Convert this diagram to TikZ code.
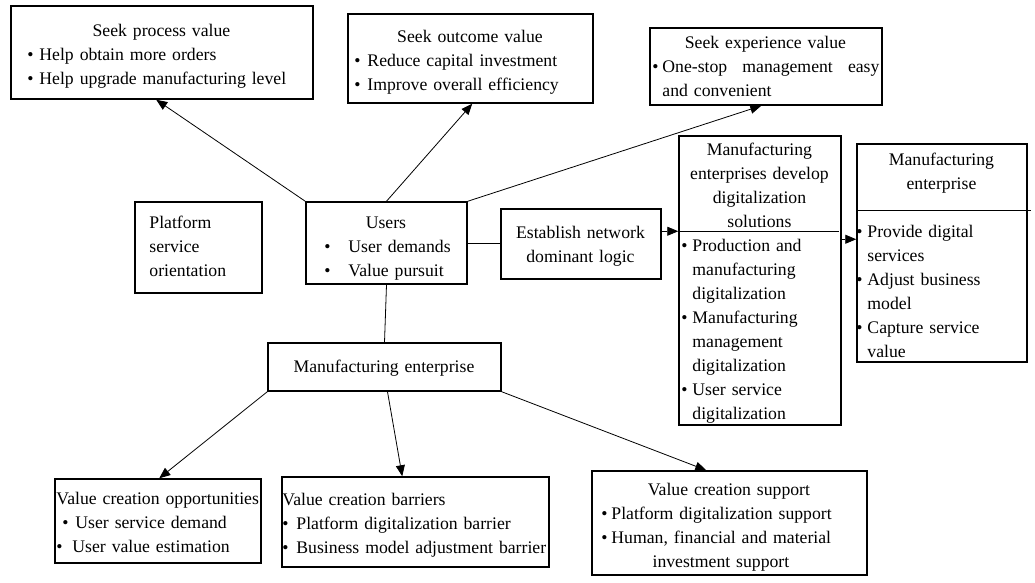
\documentclass[tikz,border=0pt]{standalone}
\usepackage{fontspec}
\setmainfont{Liberation Serif}
\usetikzlibrary{arrows.meta,calc}
\newcommand{\bulx}[1]{\makebox[#1pt][l]{\textbullet}}
\newcommand{\ctr}[1]{\makebox[\hsize]{#1}}
\newcommand{\ind}[1]{\hspace*{#1pt}}
\begin{document}
\begin{tikzpicture}[x=1pt,y=-1pt,
  bx/.style={draw, line width=1.5pt, inner sep=0pt},
  tx/.style={inner sep=0pt, align=left, anchor=north west},
  arr/.style={-{Triangle[length=11pt,width=9pt]}, line width=0.8pt},
  ln/.style={line width=0.8pt},
  font=\fontsize{17.7}{24}\selectfont]
\useasboundingbox (0,0) rectangle (1035,582);
% boxes
\node[bx, minimum width=302pt, minimum height=93pt] (proc) at (162,52.5) {};
\node[bx, minimum width=245pt, minimum height=89pt] (outc) at (470.5,58.5) {};
\node[bx, minimum width=232pt, minimum height=77pt] (exp) at (766,66.5) {};
\node[bx, minimum width=127pt, minimum height=91pt] (plat) at (198.5,247.5) {};
\node[bx, minimum width=161pt, minimum height=82pt] (users) at (386.5,243) {};
\node[bx, minimum width=160pt, minimum height=70pt] (estab) at (581,244) {};
\node[bx, minimum width=162pt, minimum height=289pt] (dev) at (760,280.5) {};
\node[bx, minimum width=170pt, minimum height=218pt] (me2) at (942,253) {};
\node[bx, minimum width=233pt, minimum height=48pt] (me) at (384.5,367) {};
\node[bx, minimum width=206pt, minimum height=84pt] (opp) at (158,521) {};
\node[bx, minimum width=267pt, minimum height=90pt] (bar) at (415.5,522) {};
\node[bx, minimum width=275pt, minimum height=104pt] (sup) at (729.5,523) {};
% texts
\node[tx, text width=298pt] (proc-t) at ($(proc.north west)+(2,14.2)$)
 {\strut\ctr{Seek process value}\\
  \ind{15}\bulx{12}Help obtain more orders\\
  \ind{15}\bulx{12}\mbox{Help upgrade manufacturing level}};
\node[tx, text width=241pt] (outc-t) at ($(outc.north west)+(2,12.2)$)
 {\strut\ctr{Seek outcome value}\\
  \ind{5}\bulx{13}\mbox{Reduce capital investment}\\
  \ind{5}\bulx{13}\mbox{Improve overall efficiency}};
\node[tx, text width=228pt] (exp-t) at ($(exp.north west)+(2,4.2)$)
 {\strut\ctr{Seek experience value}\\
  \ind{1}\bulx{10}One-stop\hfill management\hfill easy\\
  \ind{11}and convenient};
\node[tx, text width=123pt] (plat-t) at ($(plat.north west)+(2,10.2)$)
 {\strut\ind{13}Platform\\ \ind{13}service\\ \ind{13}orientation};
\node[tx, text width=157pt] (users-t) at ($(users.north west)+(2,10.2)$)
 {\strut\ctr{Users}\\
  \ind{17}\bulx{24}\mbox{User demands}\\
  \ind{17}\bulx{24}\mbox{Value pursuit}};
\node[tx, text width=156pt] (estab-t) at ($(estab.north west)+(2,13.2)$)
 {\strut\ctr{Establish network}\\ \ctr{dominant logic}};
\node[tx, text width=158pt] (dev-t) at ($(dev.north west)+(2,3.2)$)
 {\strut\ctr{Manufacturing}\\ \ctr{enterprises develop}\\ \ctr{digitalization}\\ \ctr{solutions}\\
  \ind{1}\bulx{11}Production and\\ \ind{12}manufacturing\\ \ind{12}digitalization\\
  \ind{1}\bulx{11}Manufacturing\\ \ind{12}management\\ \ind{12}digitalization\\
  \ind{1}\bulx{11}User service\\ \ind{12}digitalization};
\node[tx, text width=166pt] (me2-t) at ($(me2.north west)+(2,5.2)$)
 {\strut\ctr{Manufacturing}\\ \ctr{enterprise}\\ \mbox{}\\
  \ind{-2}\bulx{11}Provide digital\\ \ind{9}services\\
  \ind{-2}\bulx{11}Adjust business\\ \ind{9}model\\
  \ind{-2}\bulx{11}Capture service\\ \ind{9}value};
\node[tx, text width=229pt] (me-t) at ($(me.north west)+(2,13.2)$)
 {\strut\ctr{Manufacturing enterprise}};
\node[tx, text width=202pt] (opp-t) at ($(opp.north west)+(2,9.2)$)
 {\strut\mbox{Value creation opportunities}\\
  \ind{6}\bulx{13}\mbox{User service demand}\\
  \bulx{16}\mbox{User value estimation}};
\node[tx, text width=263pt] (bar-t) at ($(bar.north west)+(2,12.2)$)
 {\strut\ind{-1}\mbox{Value creation barriers}\\
  \ind{-1}\bulx{14}\mbox{Platform digitalization barrier}\\
  \ind{-1}\bulx{14}\mbox{Business model adjustment barrier}};
\node[tx, text width=271pt] (sup-t) at ($(sup.north west)+(2,8.2)$)
 {\strut\ctr{Value creation support}\\
  \ind{8}\bulx{10}\mbox{Platform digitalization support}\\
  \ind{8}\bulx{10}\mbox{Human, financial and material}\\
  \ctr{\hspace*{-16pt}investment support}};
% dividers
\coordinate (dvl) at ($(dev.north west)+(0,96)$);
\coordinate (dvr) at ($(dev.north east)+(-3,96)$);
\draw[ln] (dvl) -- (dvr);
\coordinate (m2l) at ($(me2.north west)+(0,67)$);
\coordinate (m2r) at ($(me2.north east)+(3,67)$);
\draw[ln] (m2l) -- (m2r);
\coordinate (m2a) at ($(me2.north west)+(0,96)$);
% connectors
\draw[arr] (users.north west) -- ($(proc.south west)+(146,0)$);
\draw[arr] (users.north) -- ($(outc.south west)+(125,0)$);
\draw[arr] (users.north east) -- ($(exp.south west)+(112,0)$);
\draw[ln] (users.east) -- (users.east -| estab.west);
\draw[arr] (dvl -| estab.east) -- (dvl);
\draw[arr] (m2a -| dev.east) -- (m2a);
\draw[ln] (users.south) -- (me.north);
\draw[arr] (me.south west) -- ($(opp.north west)+(105,0)$);
\draw[arr] ($(me.south)+(3,0)$) -- ($(bar.north west)+(121,0)$);
\draw[arr] (me.south east) -- ($(sup.north west)+(115,0)$);
\end{tikzpicture}
\end{document}
